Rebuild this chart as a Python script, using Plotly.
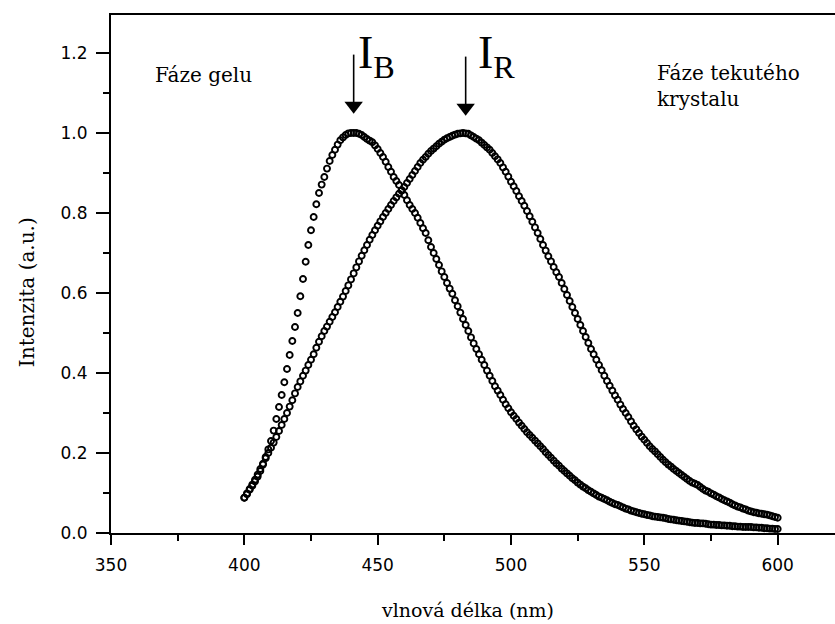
import plotly.graph_objects as go

# ---------------- data ----------------
wavelength = list(range(400, 601))  # nm, 1 nm step

gel_phase = [
    0.088, 0.097, 0.108, 0.118, 0.129, 0.141, 0.155, 0.171, 0.190, 0.209,  # 400-409
    0.230, 0.256, 0.285, 0.315, 0.345, 0.377, 0.410, 0.445, 0.480, 0.515,  # 410-419
    0.550, 0.592, 0.635, 0.678, 0.720, 0.757, 0.790, 0.822, 0.850, 0.871,  # 420-429
    0.890, 0.911, 0.930, 0.945, 0.958, 0.971, 0.982, 0.989, 0.995, 0.999,  # 430-439
    1.000, 1.000, 1.000, 0.998, 0.995, 0.990, 0.985, 0.981, 0.977, 0.969,  # 440-449
    0.960, 0.950, 0.940, 0.928, 0.915, 0.903, 0.890, 0.880, 0.870, 0.857,  # 450-459
    0.845, 0.832, 0.820, 0.810, 0.800, 0.788, 0.775, 0.762, 0.750, 0.732,  # 460-469
    0.715, 0.700, 0.685, 0.670, 0.654, 0.640, 0.625, 0.611, 0.598, 0.582,  # 470-479
    0.567, 0.551, 0.535, 0.520, 0.505, 0.489, 0.474, 0.460, 0.447, 0.433,  # 480-489
    0.420, 0.406, 0.393, 0.380, 0.367, 0.356, 0.345, 0.333, 0.322, 0.312,  # 490-499
    0.302, 0.293, 0.285, 0.276, 0.268, 0.260, 0.252, 0.245, 0.238, 0.231,  # 500-509
    0.224, 0.217, 0.210, 0.202, 0.195, 0.188, 0.181, 0.174, 0.168, 0.161,  # 510-519
    0.155, 0.149, 0.143, 0.137, 0.132, 0.126, 0.121, 0.116, 0.112, 0.107,  # 520-529
    0.103, 0.099, 0.095, 0.091, 0.088, 0.085, 0.082, 0.078, 0.075, 0.072,  # 530-539
    0.070, 0.067, 0.064, 0.061, 0.059, 0.056, 0.054, 0.052, 0.050, 0.048,  # 540-549
    0.047, 0.045, 0.044, 0.042, 0.041, 0.040, 0.039, 0.038, 0.037, 0.035,  # 550-559
    0.034, 0.033, 0.032, 0.031, 0.030, 0.029, 0.028, 0.027, 0.026, 0.025,  # 560-569
    0.025, 0.024, 0.024, 0.023, 0.022, 0.021, 0.021, 0.020, 0.020, 0.019,  # 570-579
    0.019, 0.018, 0.018, 0.017, 0.017, 0.016, 0.016, 0.015, 0.015, 0.015,  # 580-589
    0.015, 0.014, 0.014, 0.013, 0.013, 0.012, 0.012, 0.011, 0.011, 0.010,  # 590-599
    0.010,                                                                 # 600
]

lc_phase = [
    0.088, 0.099, 0.110, 0.121, 0.133, 0.146, 0.160, 0.173, 0.187, 0.200,  # 400-409
    0.213, 0.226, 0.240, 0.255, 0.270, 0.285, 0.300, 0.316, 0.332, 0.349,  # 410-419
    0.365, 0.379, 0.393, 0.406, 0.420, 0.433, 0.447, 0.463, 0.478, 0.492,  # 420-429
    0.505, 0.516, 0.528, 0.540, 0.552, 0.565, 0.578, 0.591, 0.605, 0.619,  # 430-439
    0.634, 0.649, 0.664, 0.679, 0.693, 0.707, 0.720, 0.733, 0.745, 0.757,  # 440-449
    0.768, 0.779, 0.790, 0.800, 0.810, 0.820, 0.830, 0.839, 0.848, 0.856,  # 450-459
    0.865, 0.875, 0.885, 0.895, 0.905, 0.915, 0.925, 0.933, 0.940, 0.948,  # 460-469
    0.955, 0.961, 0.967, 0.973, 0.978, 0.983, 0.987, 0.990, 0.993, 0.996,  # 470-479
    0.998, 0.999, 1.000, 0.999, 0.998, 0.994, 0.990, 0.986, 0.982, 0.976,  # 480-489
    0.970, 0.964, 0.958, 0.950, 0.942, 0.934, 0.925, 0.914, 0.903, 0.891,  # 490-499
    0.878, 0.867, 0.855, 0.842, 0.830, 0.818, 0.805, 0.792, 0.778, 0.764,  # 500-509
    0.750, 0.735, 0.720, 0.706, 0.692, 0.679, 0.665, 0.652, 0.640, 0.625,  # 510-519
    0.610, 0.595, 0.580, 0.565, 0.550, 0.535, 0.520, 0.505, 0.490, 0.475,  # 520-529
    0.460, 0.447, 0.433, 0.420, 0.407, 0.393, 0.380, 0.368, 0.356, 0.344,  # 530-539
    0.333, 0.321, 0.310, 0.300, 0.290, 0.279, 0.268, 0.259, 0.250, 0.241,  # 540-549
    0.233, 0.225, 0.217, 0.210, 0.204, 0.197, 0.190, 0.183, 0.177, 0.171,  # 550-559
    0.166, 0.160, 0.155, 0.150, 0.145, 0.140, 0.135, 0.130, 0.126, 0.123,  # 560-569
    0.120, 0.115, 0.110, 0.106, 0.103, 0.099, 0.096, 0.092, 0.089, 0.085,  # 570-579
    0.082, 0.079, 0.076, 0.072, 0.069, 0.066, 0.064, 0.061, 0.059, 0.056,  # 580-589
    0.054, 0.052, 0.051, 0.049, 0.048, 0.047, 0.046, 0.044, 0.042, 0.040,  # 590-599
    0.038,                                                                 # 600
]

x_tick_values = [350, 400, 450, 500, 550, 600]
y_tick_values = [0.0, 0.2, 0.4, 0.6, 0.8, 1.0, 1.2]
peak_wavelengths = {"B": 441, "R": 483}
arrow_tail = {"B": 1.196, "R": 1.191}
arrow_tip = {"B": 1.068, "R": 1.063}
x_range = [350, 621.5]
y_range = [0, 1.295]

# ---------------- figure ----------------
fig = go.Figure()
marker_style = dict(symbol="circle-open", size=6, color="black", line=dict(width=1.9, color="black"))
fig.add_trace(go.Scatter(x=wavelength, y=lc_phase, mode="markers", marker=marker_style,
                         name="Fáze tekutého krystalu", showlegend=False))
fig.add_trace(go.Scatter(x=wavelength, y=gel_phase, mode="markers", marker=marker_style,
                         name="Fáze gelu", showlegend=False))

# peak arrows (shaft + solid head)
for key in ("B", "R"):
    fig.add_trace(go.Scatter(x=[peak_wavelengths[key], peak_wavelengths[key]],
                             y=[arrow_tail[key], arrow_tip[key]], mode="lines",
                             line=dict(color="black", width=1.6), showlegend=False, hoverinfo="skip"))
    fig.add_trace(go.Scatter(x=[peak_wavelengths[key]], y=[arrow_tip[key]], mode="markers",
                             marker=dict(symbol="triangle-down", size=16, color="black"),
                             showlegend=False, hoverinfo="skip"))

tick_font = dict(family="DejaVu Sans", size=17, color="black")
serif = "DejaVu Serif, Liberation Serif, serif"

fig.update_layout(
    width=835, height=624,
    margin=dict(l=111, r=0, t=15, b=91),
    paper_bgcolor="white", plot_bgcolor="white",
    xaxis=dict(range=x_range, tickvals=x_tick_values, ticks="outside", ticklen=10, tickwidth=1.5,
               tickcolor="black", showline=True, linecolor="black", linewidth=2, mirror=True,
               showgrid=False, zeroline=False, tickfont=tick_font, ticklabelstandoff=6,
               minor=dict(ticks="outside", ticklen=6, tickwidth=1.5, tickcolor="black",
                          tick0=350, dtick=25, showgrid=False)),
    yaxis=dict(range=y_range, tickvals=y_tick_values, tickformat=".1f", ticks="outside", ticklen=13,
               tickwidth=1.5, tickcolor="black", showline=True, linecolor="black", linewidth=2,
               showgrid=False, zeroline=False, tickfont=tick_font, ticklabelstandoff=5,
               minor=dict(ticks="outside", ticklen=6, tickwidth=1.5, tickcolor="black",
                          tick0=0, dtick=0.1, showgrid=False)),
)

annotations = [
    dict(text="Intenzita (a.u.)", xref="paper", yref="paper", x=-0.116, y=0.465, textangle=-90,
         showarrow=False, font=dict(family=serif, size=20, color="black"), xanchor="center", yanchor="middle"),
    dict(text="vlnová délka (nm)", xref="paper", yref="paper", x=0.492, y=-0.149,
         showarrow=False, font=dict(family=serif, size=19, color="black"), xanchor="center", yanchor="middle"),
    dict(text="Fáze gelu", xref="paper", yref="paper", x=0.058, y=0.884,
         showarrow=False, font=dict(family=serif, size=20, color="black"), xanchor="left", yanchor="middle"),
    dict(text="Fáze tekutého<br>krystalu", xref="paper", yref="paper", x=0.752, y=0.863, align="left",
         showarrow=False, font=dict(family=serif, size=20, color="black"), xanchor="left", yanchor="middle"),
    dict(text="I<sub>B</sub>", xref="x", yref="paper", x=peak_wavelengths["B"] + 1.0, y=0.98,
         showarrow=False, font=dict(family="Liberation Serif", size=46, color="black"),
         xanchor="left", yanchor="top"),
    dict(text="I<sub>R</sub>", xref="x", yref="paper", x=peak_wavelengths["R"] + 4.0, y=0.98,
         showarrow=False, font=dict(family="Liberation Serif", size=46, color="black"),
         xanchor="left", yanchor="top"),
]
fig.update_layout(annotations=annotations)

fig.write_html("out.html")
